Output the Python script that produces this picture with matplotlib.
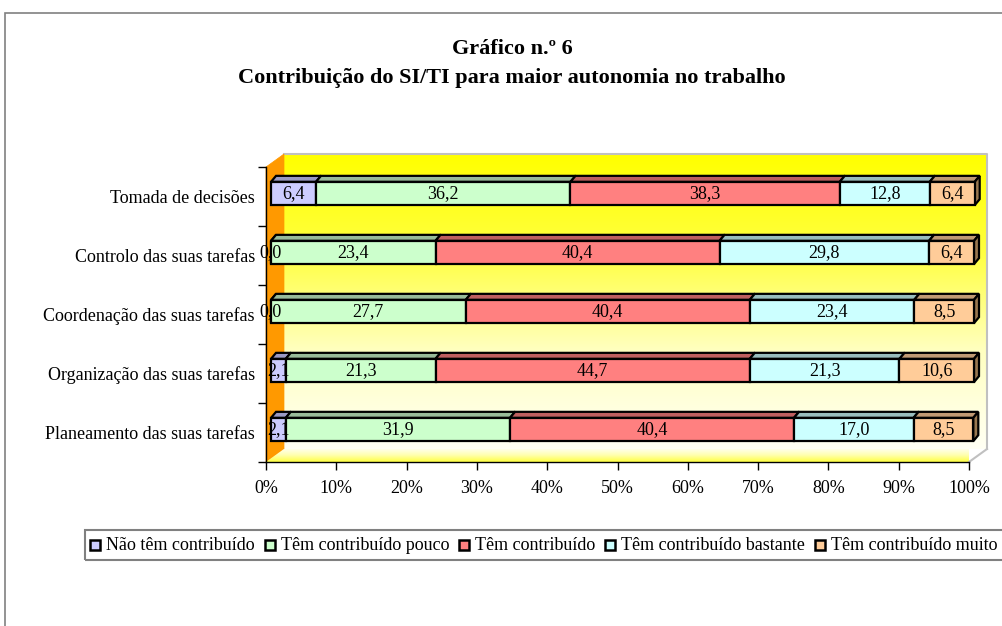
import numpy as np
import matplotlib.pyplot as plt
from matplotlib.patches import Polygon, Rectangle
from matplotlib.colors import LinearSegmentedColormap

plt.rcParams['font.family'] = ['Liberation Serif', 'DejaVu Serif']

# data
categorias = ['Tomada de decisões', 'Controlo das suas tarefas', 'Coordenação das suas tarefas',
              'Organização das suas tarefas', 'Planeamento das suas tarefas']
series = ['Não têm contribuído', 'Têm contribuído pouco', 'Têm contribuído',
          'Têm contribuído bastante', 'Têm contribuído muito']
nao = [6.4, 0.0, 0.0, 2.1, 2.1]
pouco = [36.2, 23.4, 27.7, 21.3, 31.9]
contrib = [38.3, 40.4, 40.4, 44.7, 40.4]
bastante = [12.8, 29.8, 23.4, 21.3, 17.0]
muito = [6.4, 6.4, 8.5, 10.6, 8.5]
xticks = [0, 10, 20, 30, 40, 50, 60, 70, 80, 90, 100]

cores = ['#CCCCFF', '#CCFFCC', '#FF8080', '#CCFFFF', '#FFCC99']
topos = ['#9A9AC4', '#99BB99', '#BF5F5F', '#99BDBD', '#C09A74']
lado_fim = '#99774F'

W, H = 1002, 626
fig = plt.figure(figsize=(W / 100, H / 100), dpi=100)

# outer frame
fig.patches.append(Rectangle((5 / W, -0.05), 1.1, 1 - 13 / H + 0.05, transform=fig.transFigure,
                             fill=False, edgecolor='#808080', lw=1.2))

ax = fig.add_axes([266 / W, 1 - 462 / H, (969 - 266) / W, (462 - 167) / H])
ax.set_xlim(0, 100)
ax.set_ylim(4.5, -0.5)

pxx = 100 / (969 - 266)   # data units per pixel in x
pxy = 5 / (462 - 167)     # data units per pixel in y (downwards positive)

# 3D box: depth offset
Dx, Dy = 18 * pxx, -13 * pxy

# back wall gradient
wall = LinearSegmentedColormap.from_list('w', ['#FFFF00', '#FFFF40', '#FFFFC0', '#FFFFF4'])
grad = np.linspace(0, 1, 256).reshape(-1, 1)
ax.imshow(grad, cmap=wall, aspect='auto', extent=(Dx, 100 + Dx, 4.5 + Dy, -0.5 + Dy),
          zorder=0, clip_on=False)
ax.plot([Dx, 100 + Dx, 100 + Dx], [-0.5 + Dy, -0.5 + Dy, 4.5 + Dy], color='#C0C0C0', lw=1.5,
        clip_on=False, zorder=1)

# left wall
ax.add_patch(Polygon([(0, -0.5), (0, 4.5), (Dx, 4.5 + Dy), (Dx, -0.5 + Dy)],
                     closed=True, facecolor='#FF9900', edgecolor='#FF9900', lw=0.5,
                     clip_on=False, zorder=1))
# floor gradient
floor = LinearSegmentedColormap.from_list('f', ['#FFFFF4', '#FFFFB0', '#FFFF40'])
im = ax.imshow(grad, cmap=floor, aspect='auto', extent=(0, 100 + Dx, 4.5, 4.5 + Dy),
               zorder=1, clip_on=True)
fpoly = Polygon([(0, 4.5), (100, 4.5), (100 + Dx, 4.5 + Dy), (Dx, 4.5 + Dy)], closed=True,
                facecolor='none', edgecolor='none', transform=ax.transData)
ax.add_patch(fpoly)
im.set_clip_path(fpoly)
ax.plot([100, 100 + Dx], [4.5, 4.5 + Dy], color='#C0C0C0', lw=1.5, clip_on=False, zorder=1)

# bars
valores = np.array([nao, pouco, contrib, bastante, muito])
y = np.arange(len(categorias))
h = 0.395
bx, by = 5 * pxx, -3 * pxy       # front face offset
tx, ty = 5 * pxx, -6 * pxy       # bar depth
esq = np.zeros(len(categorias))
for i, s in enumerate(series):
    v = valores[i]
    for j in range(len(categorias)):
        l = esq[j] + bx
        r = esq[j] + v[j] + bx
        yt = y[j] - h / 2 + by
        yb = y[j] + h / 2 + by
        ax.add_patch(Polygon([(l, yt), (r, yt), (r + tx, yt + ty), (l + tx, yt + ty)],
                             closed=True, facecolor=topos[i], edgecolor='black', lw=1.6,
                             clip_on=False, zorder=3))
        if i == len(series) - 1:
            ax.add_patch(Polygon([(r, yt), (r, yb), (r + tx, yb + ty), (r + tx, yt + ty)],
                                 closed=True, facecolor=lado_fim, edgecolor='black', lw=1.6,
                                 clip_on=False, zorder=3))
    ax.barh(y + by, v, left=esq + bx, height=h, color=cores[i], edgecolor='black',
            linewidth=1.6, zorder=4, label=s, clip_on=False)
    for j in range(len(categorias)):
        ax.text(esq[j] + v[j] / 2 + bx, y[j] + by, f'{v[j]:.1f}'.replace('.', ','),
                ha='center', va='center', fontsize=13, zorder=5)
    esq = esq + v

# axes styling
for sp in ['top', 'right']:
    ax.spines[sp].set_visible(False)
ax.spines['left'].set_linewidth(1)
ax.spines['bottom'].set_linewidth(1)
ax.set_xticks(xticks)
ax.set_xticklabels([f'{t}%' for t in xticks], fontsize=13)
ax.tick_params(axis='x', direction='out', length=6, width=1, pad=7)
ax.set_yticks(y)
ax.set_yticklabels(categorias, fontsize=13)
ax.tick_params(axis='y', length=0, pad=8)
ax.set_yticks(np.arange(-0.5, 4.6, 1), minor=True)
ax.tick_params(axis='y', which='minor', direction='out', length=6, width=1)
ax.patch.set_visible(False)

# titles
fig.text(512 / W, 1 - 49 / H, 'Gráfico n.º 6', ha='center', va='center',
         fontsize=16, fontweight='bold')
fig.text(512 / W, 1 - 78 / H, 'Contribuição do SI/TI para maior autonomia no trabalho',
         ha='center', va='center', fontsize=16, fontweight='bold')

# legend
fig.patches.append(Rectangle((85 / W, 1 - 560 / H), 1.0, 30 / H, transform=fig.transFigure,
                             fill=False, edgecolor='#808080', lw=1.5))
fig.canvas.draw()
rend = fig.canvas.get_renderer()
x0 = 90
ly = 545
for i, s in enumerate(series):
    fig.patches.append(Rectangle((x0 / W, 1 - (ly + 5) / H), 10 / W, 10 / H,
                                 transform=fig.transFigure, facecolor=cores[i],
                                 edgecolor='black', lw=1.8))
    t = fig.text((x0 + 16) / W, 1 - ly / H, s, ha='left', va='center', fontsize=13)
    bb = t.get_window_extent(renderer=rend)
    x0 = bb.x1 + 10

fig.savefig('out.png', dpi=100)
